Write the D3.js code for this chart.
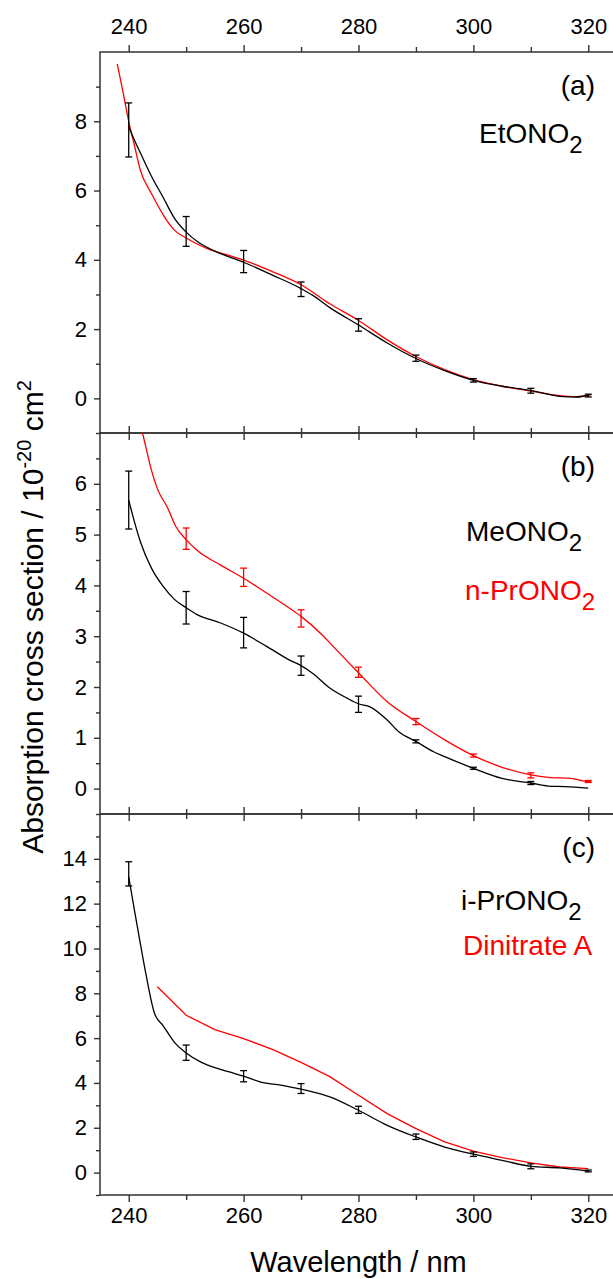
<!DOCTYPE html>
<html>
<head>
<meta charset="utf-8">
<script src="https://cdn.jsdelivr.net/npm/d3@7"></script>
<style>
  body { margin: 0; background: #fff; }
  svg { display: block; font-family: "Liberation Sans", Arial, sans-serif; }
  .tick text { font-size: 22px; fill: #000; }
  .tick line { stroke: #333; stroke-width: 1.4; }
</style>
</head>
<body>
<script>
// x axis
var wlTicks = [240, 260, 280, 300, 320];
var wlMinor = [250, 270, 290, 310];

// panel (a)
var etWl  = [240, 241, 242, 244, 246, 248, 250, 252, 255, 260, 265, 270, 272, 275, 280, 285, 290, 295, 300, 305, 310, 315, 318, 320];
var etVal = [7.85, 7.45, 7.1, 6.4, 5.8, 5.19, 4.8, 4.52, 4.25, 3.93, 3.56, 3.17, 2.98, 2.62, 2.12, 1.6, 1.15, 0.8, 0.52, 0.35, 0.23, 0.06, 0.04, 0.09];
var etRefWl  = [238, 239, 240, 241, 242, 244, 246, 248, 250, 252, 254, 257, 260, 265, 270, 275, 280, 285, 290, 295, 300, 305, 310, 315, 318, 320.5];
var etRefVal = [9.66, 8.85, 8.0, 7.3, 6.6, 5.9, 5.3, 4.85, 4.63, 4.45, 4.3, 4.15, 3.99, 3.66, 3.28, 2.73, 2.25, 1.69, 1.21, 0.83, 0.54, 0.35, 0.21, 0.08, 0.05, 0.1];
var etErrWl  = [240, 250, 260, 270, 280, 290, 300, 310, 320];
var etErrMid = [7.75, 4.82, 3.95, 3.15, 2.12, 1.16, 0.52, 0.22, 0.08];
var etErrDel = [0.78, 0.43, 0.32, 0.21, 0.18, 0.09, 0.05, 0.07, 0.04];

// panel (b)
var meWl  = [240, 241, 242, 244, 246, 248, 250, 252, 256, 260, 264, 268, 270, 272, 275, 278, 280, 282, 285, 287, 290, 293, 295, 300, 305, 310, 313, 316, 320];
var meVal = [5.68, 5.25, 4.87, 4.33, 3.98, 3.72, 3.56, 3.42, 3.26, 3.06, 2.8, 2.53, 2.42, 2.27, 1.98, 1.78, 1.67, 1.61, 1.35, 1.12, 0.93, 0.73, 0.63, 0.4, 0.2, 0.11, 0.05, 0.04, 0.01];
var meErrWl  = [240, 250, 260, 270, 280, 290, 300, 310];
var meErrMid = [5.68, 3.56, 3.07, 2.42, 1.66, 0.93, 0.4, 0.11];
var meErrDel = [0.57, 0.32, 0.30, 0.19, 0.16, 0.03, 0.02, 0.03];
var prWl  = [241, 242.4, 244, 245, 246.8, 248.2, 250, 252, 256, 260, 264, 268, 270, 274, 276, 280, 285, 290, 295, 300, 305, 310, 313, 317, 320, 320.5];
var prVal = [7.6, 7.0, 6.25, 5.9, 5.52, 5.16, 4.9, 4.68, 4.4, 4.14, 3.85, 3.55, 3.39, 2.99, 2.75, 2.28, 1.71, 1.32, 0.96, 0.65, 0.42, 0.27, 0.22, 0.2, 0.14, 0.14];
var prErrWl  = [250, 260, 270, 280, 290, 300, 310, 320];
var prErrMid = [4.92, 4.16, 3.35, 2.29, 1.32, 0.65, 0.26, 0.14];
var prErrDel = [0.21, 0.18, 0.17, 0.10, 0.06, 0.03, 0.05, 0.02];

// panel (c)
var ipWl  = [240, 241, 242, 243, 244.5, 246, 248, 250, 252.5, 255, 257.5, 260, 263, 266.5, 270, 272, 275, 280, 285, 290, 295, 300, 305, 310, 315, 320];
var ipVal = [13.2, 11.7, 10.25, 8.85, 7.1, 6.55, 5.8, 5.34, 4.94, 4.68, 4.49, 4.3, 4.04, 3.9, 3.72, 3.6, 3.38, 2.78, 2.11, 1.59, 1.14, 0.82, 0.55, 0.28, 0.21, 0.07];
var ipErrWl  = [240, 250, 260, 270, 280, 290, 300, 310, 320];
var ipErrMid = [13.33, 5.35, 4.3, 3.75, 2.8, 1.6, 0.82, 0.28, 0.07];
var ipErrDel = [0.54, 0.34, 0.25, 0.22, 0.16, 0.12, 0.1, 0.11, 0.04];
var diWl  = [245, 250, 255, 260, 265, 270, 275, 280, 285, 290, 295, 300, 305, 310, 315, 320];
var diVal = [8.29, 7.02, 6.38, 5.98, 5.5, 4.92, 4.28, 3.45, 2.63, 1.96, 1.37, 0.96, 0.67, 0.43, 0.25, 0.18];

var width = 613, height = 1279;
var left = 100, right = 617, top0 = 52, ph = 381;

var svg = d3.select('body').append('svg')
            .attr('width', width)
            .attr('height', height);

var x = d3.scaleLinear().domain([235, 325]).range([left, right]);

// smooth = measured spectrum, linear = tabulated curve
var panels = [
  { id: 'a', dom: [-1, 10], major: [0, 2, 4, 6, 8, 10], minor: [-1, 1, 3, 5, 7, 9],
    lines: [[etRefWl, etRefVal, 'red', true], [etWl, etVal, 'black', true]],
    errs: [[etErrWl, etErrMid, etErrDel, 'black']],
    labels: [{ x: 479, y: 143, t: 'EtONO', sub: '2', c: 'black' }] },
  { id: 'b', dom: [-0.5, 7], major: [0, 1, 2, 3, 4, 5, 6, 7], minor: [-0.5, 0.5, 1.5, 2.5, 3.5, 4.5, 5.5, 6.5],
    lines: [[prWl, prVal, 'red', true], [meWl, meVal, 'black', true]],
    errs: [[meErrWl, meErrMid, meErrDel, 'black'], [prErrWl, prErrMid, prErrDel, 'red']],
    labels: [{ x: 466, y: 541, t: 'MeONO', sub: '2', c: 'black' },
             { x: 465, y: 600, t: 'n-PrONO', sub: '2', c: 'red' }] },
  { id: 'c', dom: [-1, 16], major: [0, 2, 4, 6, 8, 10, 12, 14, 16], minor: [-1, 1, 3, 5, 7, 9, 11, 13, 15],
    lines: [[diWl, diVal, 'red', false], [ipWl, ipVal, 'black', true]],
    errs: [[ipErrWl, ipErrMid, ipErrDel, 'black']],
    labels: [{ x: 461, y: 910, t: 'i-PrONO', sub: '2', c: 'black' },
             { x: 463, y: 955, t: 'Dinitrate A', sub: '', c: 'red' }] }
];

panels.forEach(function(p, i) {
  var y0 = top0 + i * ph, y1 = y0 + ph;
  var y = d3.scaleLinear().domain(p.dom).range([y1, y0]);
  var g = svg.append('g');

  var clipId = 'clip' + p.id;
  svg.append('clipPath').attr('id', clipId)
     .append('rect').attr('x', left).attr('y', y0).attr('width', right - left).attr('height', ph);

  // y axes (labels only strictly inside)
  var inner = p.major.filter(function(v) { return v > p.dom[0] && v < p.dom[1]; });
  g.append('g').attr('transform', 'translate(' + left + ',0)')
   .call(d3.axisLeft(y).tickValues(inner).tickSize(6).tickPadding(7).tickFormat(d3.format('d')));
  g.append('g').attr('transform', 'translate(' + left + ',0)')
   .call(d3.axisLeft(y).tickValues(p.minor).tickSize(4).tickFormat(''));
  g.append('g').attr('transform', 'translate(' + right + ',0)')
   .call(d3.axisLeft(y).tickValues(inner).tickSize(-6).tickFormat(''));
  g.append('g').attr('transform', 'translate(' + right + ',0)')
   .call(d3.axisLeft(y).tickValues(p.minor).tickSize(-4).tickFormat(''));

  // x ticks, top and bottom of each panel
  g.append('g').attr('transform', 'translate(0,' + y0 + ')')
   .call(d3.axisTop(x).tickValues(wlTicks).tickSize(7).tickPadding(11)
         .tickFormat(i === 0 ? d3.format('d') : ''));
  g.append('g').attr('transform', 'translate(0,' + y0 + ')')
   .call(d3.axisTop(x).tickValues(wlMinor).tickSize(5).tickFormat(''));
  g.append('g').attr('transform', 'translate(0,' + y1 + ')')
   .call(d3.axisBottom(x).tickValues(wlTicks).tickSize(7).tickPadding(5)
         .tickFormat(i === 2 ? d3.format('d') : ''));
  g.append('g').attr('transform', 'translate(0,' + y1 + ')')
   .call(d3.axisBottom(x).tickValues(wlMinor).tickSize(5).tickFormat(''));

  g.selectAll('.domain').remove();

  g.append('rect').attr('x', left).attr('y', y0).attr('width', right - left).attr('height', ph)
   .attr('fill', 'none').attr('stroke', '#333').attr('stroke-width', 1.5);

  var plot = g.append('g').attr('clip-path', 'url(#' + clipId + ')');

  p.lines.forEach(function(l) {
    var line = d3.line()
        .x(function(d) { return x(d[0]); })
        .y(function(d) { return y(d[1]); })
        .curve(l[3] ? d3.curveMonotoneX : d3.curveLinear);
    plot.append('path').datum(d3.zip(l[0], l[1]))
        .attr('d', line).attr('fill', 'none')
        .attr('stroke', l[2] === 'red' ? '#ff0000' : '#000').attr('stroke-width', 1.3);
  });

  p.errs.forEach(function(e) {
    var col = e[3] === 'red' ? '#ff0000' : '#000';
    var pts = d3.zip(e[0], e[1], e[2]);
    var eb = plot.append('g').attr('stroke', col).attr('stroke-width', 1.3);
    pts.forEach(function(d) {
      var cx = x(d[0]), ya = y(d[1] + d[2]), yb = y(d[1] - d[2]);
      eb.append('line').attr('x1', cx).attr('x2', cx).attr('y1', ya).attr('y2', yb);
      eb.append('line').attr('x1', cx - 3.5).attr('x2', cx + 3.5).attr('y1', ya).attr('y2', ya);
      eb.append('line').attr('x1', cx - 3.5).attr('x2', cx + 3.5).attr('y1', yb).attr('y2', yb);
    });
  });

  // panel letter
  g.append('text').attr('x', 595).attr('y', y0 + 43).attr('text-anchor', 'end')
   .style('font-size', '28px').text('(' + p.id + ')');

  p.labels.forEach(function(lb) {
    var t = g.append('text').attr('x', lb.x).attr('y', lb.y)
             .style('font-size', '28px').attr('fill', lb.c === 'red' ? '#ff0000' : '#000');
    t.append('tspan').text(lb.t);
    if (lb.sub) t.append('tspan').attr('dy', 10).style('font-size', '24px').text(lb.sub);
  });
});

// axis titles
svg.append('text').attr('x', (left + right) / 2).attr('y', 1272)
   .attr('text-anchor', 'middle').style('font-size', '29px').text('Wavelength / nm');

var yt = svg.append('text')
   .attr('transform', 'translate(43,617) rotate(-90)')
   .attr('text-anchor', 'middle').style('font-size', '30px');
yt.append('tspan').text('Absorption cross section / 10');
yt.append('tspan').attr('dy', -12).style('font-size', '20px').text('-20');
yt.append('tspan').attr('dy', 12).text(' cm');
yt.append('tspan').attr('dy', -12).style('font-size', '20px').text('2');
</script>
</body>
</html>
